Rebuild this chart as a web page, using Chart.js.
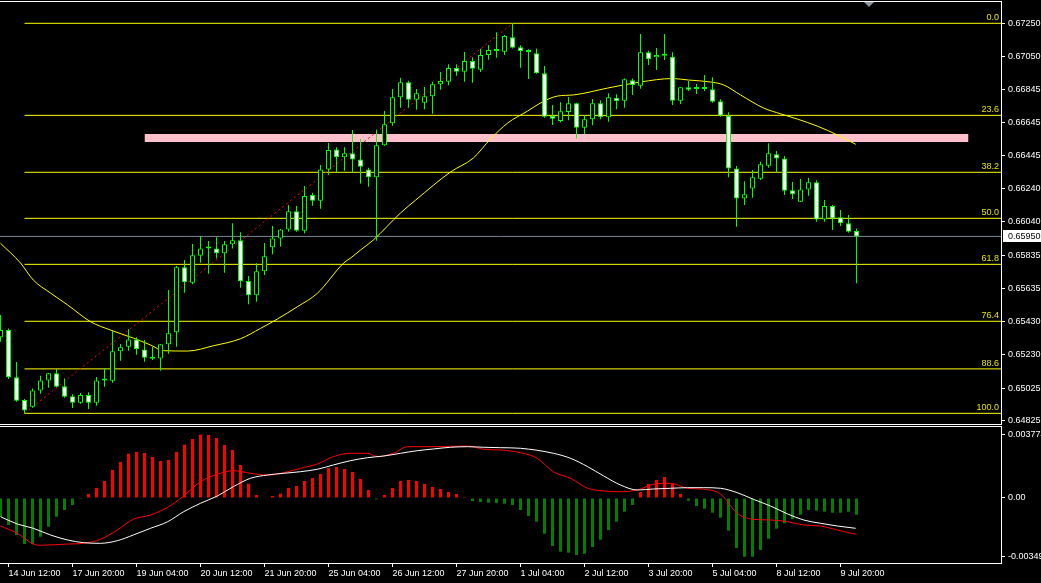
<!DOCTYPE html>
<html>
<head>
<meta charset="utf-8">
<script src="https://cdn.jsdelivr.net/npm/chart.js@4.4.1/dist/chart.umd.min.js"></script>
<style>
  html, body { margin: 0; padding: 0; background: #000; overflow: hidden; }
  #wrap { position: relative; width: 1041px; height: 583px; }
  canvas { position: absolute; left: 0; }
  #main { top: 0; }
  #osma { top: 425px; }
</style>
</head>
<body>
<div id="wrap">
  <canvas id="main" width="1041" height="425"></canvas>
  <canvas id="osma" width="1041" height="158"></canvas>
</div>
<script>
// H4 candles, 14 Jun 08:00 .. 10 Jul 04:00
const opens = [
  0.65335, 0.65379, 0.65091, 0.64952, 0.64911, 0.65011, 0.65072, 0.65115, 0.65037, 0.64976,
  0.64936, 0.64983, 0.64936, 0.65072, 0.65070, 0.65249, 0.65277, 0.65322, 0.65261, 0.65214,
  0.65206, 0.65292, 0.65365, 0.65762, 0.65668, 0.65832, 0.65877, 0.65877, 0.65847, 0.65902,
  0.65926, 0.65678, 0.65591, 0.65737, 0.65884, 0.65938, 0.65993, 0.66103, 0.65985, 0.66203,
  0.66168, 0.66359, 0.66481, 0.66433, 0.66457, 0.66420, 0.66359, 0.66311, 0.66506, 0.66640,
  0.66799, 0.66890, 0.66784, 0.66766, 0.66805, 0.66878, 0.66894, 0.66977, 0.66955, 0.67020,
  0.66967, 0.67057, 0.67081, 0.67077, 0.67165, 0.67104, 0.67075, 0.67067, 0.66945, 0.66684,
  0.66654, 0.66709, 0.66762, 0.66613, 0.66664, 0.66762, 0.66677, 0.66796, 0.66778, 0.66902,
  0.66869, 0.67073, 0.67043, 0.67052, 0.67046, 0.66778, 0.66860, 0.66849, 0.66849, 0.66847,
  0.66774, 0.66686, 0.66365, 0.66182, 0.66243, 0.66302, 0.66381, 0.66451, 0.66426, 0.66231,
  0.66162, 0.66237, 0.66280, 0.66054, 0.66135, 0.66067, 0.66030, 0.65983
];
const highs = [
  0.65471, 0.65389, 0.65184, 0.64958, 0.65023, 0.65100, 0.65117, 0.65141, 0.65084, 0.64987,
  0.64995, 0.64999, 0.65092, 0.65147, 0.65373, 0.65294, 0.65385, 0.65335, 0.65318, 0.65277,
  0.65294, 0.65623, 0.65769, 0.65806, 0.65904, 0.65952, 0.65922, 0.65945, 0.65922, 0.66030,
  0.65975, 0.65708, 0.65786, 0.65910, 0.66013, 0.65995, 0.66142, 0.66135, 0.66257, 0.66217,
  0.66386, 0.66520, 0.66494, 0.66494, 0.66599, 0.66544, 0.66369, 0.66603, 0.66715, 0.66849,
  0.66918, 0.66900, 0.66849, 0.66861, 0.66894, 0.66953, 0.67000, 0.67000, 0.67075, 0.67043,
  0.67095, 0.67118, 0.67195, 0.67179, 0.67250, 0.67116, 0.67091, 0.67097, 0.66989, 0.66752,
  0.66768, 0.66800, 0.66766, 0.66691, 0.66788, 0.66780, 0.66823, 0.66817, 0.66914, 0.66914,
  0.67185, 0.67083, 0.67099, 0.67185, 0.67073, 0.66860, 0.66898, 0.66880, 0.66935, 0.66921,
  0.66786, 0.66707, 0.66379, 0.66286, 0.66355, 0.66406, 0.66518, 0.66471, 0.66440, 0.66282,
  0.66300, 0.66308, 0.66292, 0.66172, 0.66142, 0.66111, 0.66081, 0.65999
];
const lows = [
  0.65308, 0.65080, 0.64942, 0.64867, 0.64905, 0.64990, 0.65027, 0.65030, 0.64966, 0.64903,
  0.64929, 0.64897, 0.64917, 0.65033, 0.65058, 0.65192, 0.65253, 0.65228, 0.65186, 0.65196,
  0.65131, 0.65234, 0.65277, 0.65607, 0.65658, 0.65790, 0.65722, 0.65816, 0.65729, 0.65877,
  0.65637, 0.65536, 0.65552, 0.65715, 0.65841, 0.65887, 0.65979, 0.65979, 0.65969, 0.66137,
  0.66119, 0.66326, 0.66339, 0.66351, 0.66339, 0.66271, 0.66253, 0.65924, 0.66501, 0.66625,
  0.66735, 0.66735, 0.66723, 0.66725, 0.66698, 0.66845, 0.66872, 0.66930, 0.66894, 0.66888,
  0.66953, 0.67028, 0.67040, 0.67057, 0.67097, 0.66979, 0.66910, 0.66942, 0.66674, 0.66630,
  0.66646, 0.66658, 0.66548, 0.66573, 0.66628, 0.66664, 0.66650, 0.66725, 0.66735, 0.66813,
  0.66851, 0.66996, 0.66965, 0.67026, 0.66752, 0.66758, 0.66837, 0.66819, 0.66837, 0.66766,
  0.66680, 0.66311, 0.66009, 0.66142, 0.66186, 0.66294, 0.66369, 0.66341, 0.66203, 0.66178,
  0.66160, 0.66198, 0.66040, 0.66040, 0.65989, 0.66013, 0.65973, 0.65664
];
const closes = [
  0.65379, 0.65091, 0.64948, 0.64889, 0.65011, 0.65072, 0.65115, 0.65033, 0.64972, 0.64936,
  0.64983, 0.64936, 0.65072, 0.65072, 0.65249, 0.65274, 0.65322, 0.65263, 0.65210, 0.65204,
  0.65292, 0.65359, 0.65762, 0.65670, 0.65835, 0.65877, 0.65877, 0.65847, 0.65902, 0.65926,
  0.65676, 0.65591, 0.65737, 0.65829, 0.65938, 0.65993, 0.66103, 0.65985, 0.66196, 0.66168,
  0.66359, 0.66477, 0.66433, 0.66457, 0.66420, 0.66375, 0.66311, 0.66506, 0.66634, 0.66799,
  0.66890, 0.66784, 0.66823, 0.66805, 0.66878, 0.66898, 0.66977, 0.66955, 0.67020, 0.66973,
  0.67057, 0.67087, 0.67081, 0.67172, 0.67101, 0.67081, 0.67081, 0.66945, 0.66680, 0.66668,
  0.66713, 0.66762, 0.66613, 0.66664, 0.66762, 0.66677, 0.66799, 0.66774, 0.66908, 0.66874,
  0.67073, 0.67030, 0.67057, 0.67052, 0.66778, 0.66860, 0.66845, 0.66849, 0.66849, 0.66772,
  0.66686, 0.66365, 0.66182, 0.66207, 0.66311, 0.66390, 0.66457, 0.66426, 0.66229, 0.66207,
  0.66237, 0.66280, 0.66054, 0.66135, 0.66060, 0.66030, 0.65979, 0.65950
];

// moving average, sampled at bar positions
const maIdx = [0, 2.5, 4.1, 6.25, 8.4, 11.25, 13.75, 16.6, 18.75, 20.4, 23.4, 26.6, 30, 32.5, 34.6, 37.1,
  39.6, 42.9, 43.75, 45, 46.6, 50, 51.9, 56.25, 59.1, 61.25, 63.4, 65.9, 67.5, 69.6, 71.6, 75.9, 80,
  84, 86, 88.75, 90.4, 92.5, 95.4, 97.5, 99.6, 102.1, 104.6, 106.9];
const maVal = [0.65908, 0.65788, 0.65684, 0.65605, 0.65532, 0.65430, 0.65379, 0.65330, 0.65288, 0.65253,
  0.65251, 0.65283, 0.65326, 0.65389, 0.65446, 0.65521, 0.65603, 0.65788, 0.65818, 0.65867, 0.65928,
  0.66093, 0.66172, 0.66343, 0.66428, 0.66544, 0.66642, 0.66715, 0.66764, 0.66806, 0.66813, 0.66855,
  0.66892, 0.66913, 0.66904, 0.66892, 0.66874, 0.66813, 0.66733, 0.66698, 0.66666, 0.66623, 0.66569,
  0.66512];

// fibonacci retracement drawn from the low bar to the high bar
const fibLevels = [0, 23.6, 38.2, 50, 61.8, 76.4, 88.6, 100];
const fibHigh = 0.67250;
const fibLow = 0.64871;
const fibStartIdx = 3;
const fibEndIdx = 64;

// pink zone
const zoneTop = 0.66575;
const zoneBottom = 0.66526;
const zoneStartIdx = 18;
const zoneEndIdx = 121;

const lastPrice = 0.65950;
const shiftMarkIdx = 108.5;

const priceTicks = [0.67250, 0.67050, 0.66845, 0.66645, 0.66445, 0.66240, 0.66040,
  0.65835, 0.65635, 0.65430, 0.65230, 0.65025, 0.64825];

const timeTickIdx = [1, 9, 17, 25, 33, 41, 49, 57, 65, 73, 81, 89, 97, 105];
const timeLabels = ['14 Jun 12:00', '17 Jun 20:00', '19 Jun 04:00', '20 Jun 12:00', '21 Jun 20:00',
  '25 Jun 04:00', '26 Jun 12:00', '27 Jun 20:00', '1 Jul 04:00', '2 Jul 12:00', '3 Jul 20:00',
  '5 Jul 04:00', '8 Jul 12:00', '9 Jul 20:00'];

// oscillator window
const hist = [
  -0.001115, -0.001609, -0.002205, -0.002742, -0.002742, -0.002307, -0.001711, -0.001115, -0.000715, -0.000417,
  -0.00006, 0.000238, 0.000596, 0.001013, 0.001669, 0.002146, 0.00264, 0.002742, 0.002682, 0.002444,
  0.002205, 0.002265, 0.002742, 0.003177, 0.003516, 0.003774, 0.003755, 0.003576, 0.003159, 0.002861,
  0.001967, 0.000852, 0.000179, -0.00004, 0.000119, 0.000256, 0.000596, 0.000715, 0.001013, 0.001192,
  0.00143, 0.001788, 0.001848, 0.001728, 0.00155, 0.001132, 0.000477, -0.000077, 0.000179, 0.000596,
  0.001013, 0.001073, 0.001013, 0.000834, 0.000656, 0.000536, 0.000358, 0.000238, 0.00006, -0.000179,
  -0.000238, -0.00028, -0.000298, -0.00034, -0.000417, -0.000715, -0.001073, -0.001413, -0.002128, -0.002861,
  -0.0032, -0.00326, -0.003397, -0.00332, -0.00292, -0.002485, -0.001907, -0.001413, -0.000817, -0.000417,
  0.000358, 0.000834, 0.001073, 0.001252, 0.000876, 0.000238, -0.000161, -0.000477, -0.000638, -0.000876,
  -0.001174, -0.001949, -0.00298, -0.003499, -0.003499, -0.003099, -0.002426, -0.00183, -0.001508, -0.001252,
  -0.000995, -0.000715, -0.000757, -0.000817, -0.000876, -0.000876, -0.000817, -0.000995
];
const whiteIdx = [0, 2.1, 4.1, 6.25, 8.4, 10.4, 12.5, 14.6, 16.6, 18.75, 20.9, 22.9, 25, 27.1, 29.1, 31.25,
  33.4, 35.4, 37.5, 39.6, 41.6, 43.75, 45.9, 47.9, 50, 52.1, 54.1, 56.25, 58.4, 60.4, 62.5, 65, 69.1, 71.25,
  73.4, 75.4, 77.5, 79.6, 81.6, 83.75, 85.9, 87.9, 90, 92.1, 94.1, 96.25, 98.4, 100.4, 102.5, 104.6, 106.9];
const whiteVal = [-0.001115, -0.00155, -0.001806, -0.002205, -0.002503, -0.002664, -0.0027, -0.002545,
  -0.002205, -0.001806, -0.001413, -0.000817, -0.000316, 0.000119, 0.000673, 0.001174, 0.001371, 0.001472,
  0.001567, 0.001711, 0.001967, 0.002223, 0.002402, 0.002503, 0.002664, 0.002819, 0.00292, 0.003022,
  0.003057, 0.003022, 0.002998, 0.002962, 0.002664, 0.002366, 0.001865, 0.001311, 0.000775, 0.000477,
  0.000536, 0.000578, 0.000614, 0.000614, 0.000578, 0.000316, -0.000077, -0.000477, -0.000954, -0.001311,
  -0.001508, -0.001669, -0.001806];
const redIdx = [0, 2.1, 4.1, 5, 8.4, 10.4, 12.5, 14.6, 16.6, 18.75, 20.9, 22.9, 25, 27.1, 29.1, 31.25,
  33.4, 35.4, 37.5, 39.6, 41.6, 43.75, 45.9, 47.1, 49.1, 50.9, 54.1, 58.4, 60.4, 62.5, 65, 67.1, 69.1,
  71.25, 73.4, 75.4, 77.5, 79.6, 81.6, 83.75, 85.9, 87.9, 90, 92.1, 94.1, 96.25, 98.4, 100.4, 102.5, 104.6, 106.9];
const redVal = [-0.001669, -0.002104, -0.002742, -0.002819, -0.002742, -0.0027, -0.002461, -0.001907,
  -0.00127, -0.001013, -0.000554, 0.000119, 0.000971, 0.001413, 0.001627, 0.001472, 0.001371, 0.001508,
  0.00177, 0.002026, 0.002461, 0.002664, 0.002664, 0.002461, 0.002664, 0.003057, 0.003057, 0.003099,
  0.002903, 0.002861, 0.0027, 0.002366, 0.001567, 0.001174, 0.000578, 0.000417, 0.000375, 0.000477,
  0.000817, 0.000876, 0.000578, 0.000519, 0.000238, -0.000912, -0.00127, -0.001311, -0.001413, -0.001609,
  -0.001669, -0.001907, -0.002163];
const oscTicks = [0.003774, 0, -0.00349];
const oscTickLabels = ['0.003774', '0.00', '-0.00349'];

// 8px per bar, bar centres on pixel columns
const X_MIN = -0.0625;
const X_MAX = 125.0625;
const FONT = '"Liberation Sans", Arial, sans-serif';

const fibPrice = (pct) => fibHigh - (fibHigh - fibLow) * pct / 100;
const pts = (xs, ys) => xs.map((x, k) => ({ x: x, y: ys[k] }));

function lineDs(data, color, extra) {
    return Object.assign({
        type: 'line',
        data: data,
        borderColor: color,
        borderWidth: 1,
        pointRadius: 0,
        tension: 0,
        fill: false
    }, extra);
}

// keep tick labels from pushing the plot area in
function noScalePadding(s) {
    s.paddingTop = 0;
    s.paddingBottom = 0;
    s.paddingLeft = 0;
    s.paddingRight = 0;
}

const baseOptions = {
    responsive: false,
    animation: false,
    devicePixelRatio: 1,
    events: [],
    plugins: {
        legend: { display: false },
        tooltip: { enabled: false }
    }
};

const frame = {
    id: 'frame',
    afterDraw(chart) {
        const { ctx, chartArea: a } = chart;
        ctx.save();
        ctx.strokeStyle = '#ffffff';
        ctx.lineWidth = 1;
        ctx.beginPath();
        ctx.moveTo(0, a.top + 0.5);
        ctx.lineTo(a.right + 1, a.top + 0.5);
        ctx.moveTo(a.right + 0.5, a.top);
        ctx.lineTo(a.right + 0.5, a.bottom + 1);
        ctx.moveTo(0, a.bottom + 0.5);
        ctx.lineTo(a.right + 1, a.bottom + 0.5);
        ctx.stroke();
        ctx.restore();
    }
};

const mainDecor = {
    id: 'mainDecor',
    afterDatasetsDraw(chart) {
        const { ctx, chartArea: a, scales: { y } } = chart;
        ctx.save();
        ctx.font = '9px ' + FONT;
        ctx.fillStyle = '#e6e600';
        ctx.textAlign = 'right';
        ctx.textBaseline = 'bottom';
        fibLevels.forEach(p => {
            ctx.fillText(p.toFixed(1), a.right - 2, y.getPixelForValue(fibPrice(p)) - 1);
        });
        ctx.restore();
    },
    afterDraw(chart) {
        const { ctx, chartArea: a, scales: { x, y } } = chart;
        ctx.save();
        // current price box
        const py = Math.round(y.getPixelForValue(lastPrice));
        ctx.fillStyle = '#ffffff';
        ctx.fillRect(a.right + 2, py - 6, 40, 12);
        ctx.fillStyle = '#000000';
        ctx.font = '9px ' + FONT;
        ctx.textAlign = 'left';
        ctx.textBaseline = 'middle';
        ctx.fillText(lastPrice.toFixed(5), a.right + 7, py + 0.5);
        // chart shift marker
        const sx = Math.round(x.getPixelForValue(shiftMarkIdx));
        ctx.fillStyle = '#8a95a0';
        ctx.beginPath();
        ctx.moveTo(sx - 5, a.top + 1);
        ctx.lineTo(sx + 5, a.top + 1);
        ctx.lineTo(sx, a.top + 6);
        ctx.closePath();
        ctx.fill();
        ctx.restore();
    }
};

// main price window
new Chart(document.getElementById('main'), {
    type: 'bar',
    data: {
        datasets: [
            {
                type: 'bar',
                data: opens.map((o, i) => ({ x: i, y: [o, closes[i]] })),
                backgroundColor: opens.map((o, i) => closes[i] < o ? '#ffffff' : '#000000'),
                borderColor: '#00ff00',
                borderWidth: 1,
                borderSkipped: false,
                barThickness: 5,
                minBarLength: 2,
                grouped: false,
                inflateAmount: 0,
                order: 1
            },
            {
                type: 'bar',
                data: lows.map((l, i) => ({ x: i, y: [l, highs[i]] })),
                backgroundColor: '#00ff00',
                borderWidth: 0,
                barThickness: 1,
                grouped: false,
                inflateAmount: 0,
                order: 2
            },
            lineDs(pts(maIdx, maVal), '#ffff00', { cubicInterpolationMode: 'monotone', order: 6 }),
            lineDs([{ x: fibStartIdx, y: fibLow }, { x: fibEndIdx, y: fibHigh }], '#ff0000',
                { borderDash: [2, 3], order: 7 }),
            lineDs([{ x: X_MIN, y: lastPrice }, { x: X_MAX, y: lastPrice }], '#778899', { order: 8 }),
            ...fibLevels.map(p => lineDs(
                [{ x: fibStartIdx, y: fibPrice(p) }, { x: X_MAX, y: fibPrice(p) }], '#ffff00', { order: 9 })),
            lineDs([{ x: zoneStartIdx, y: zoneTop }, { x: zoneEndIdx, y: zoneTop }], 'rgba(0,0,0,0)', {
                borderWidth: 0,
                fill: { value: zoneBottom },
                backgroundColor: '#ffc0cb',
                order: 10
            })
        ]
    },
    options: {
        ...baseOptions,
        layout: { padding: { top: 1, bottom: 1, left: 0, right: 0 }, autoPadding: false },
        scales: {
            x: {
                type: 'linear',
                min: X_MIN,
                max: X_MAX,
                offset: false,
                display: false
            },
            y: {
                type: 'linear',
                position: 'right',
                min: 0.64806,
                max: 0.67386,
                afterFit: (s) => { s.width = 40; noScalePadding(s); },
                afterBuildTicks: (s) => { s.ticks = priceTicks.map(v => ({ value: v })); },
                ticks: {
                    color: '#ffffff',
                    padding: 3,
                    autoSkip: false,
                    font: { family: FONT, size: 9 },
                    callback: (v) => Number(v).toFixed(5)
                },
                grid: { drawOnChartArea: false, color: '#ffffff', tickLength: 4 },
                border: { display: false }
            }
        }
    },
    plugins: [frame, mainDecor]
});

// oscillator window
new Chart(document.getElementById('osma'), {
    type: 'bar',
    data: {
        datasets: [
            lineDs(pts(whiteIdx, whiteVal), '#ffffff', { cubicInterpolationMode: 'monotone', order: 1 }),
            lineDs(pts(redIdx, redVal), '#ff0000', { cubicInterpolationMode: 'monotone', order: 2 }),
            {
                type: 'bar',
                data: hist.map((v, i) => ({ x: i, y: v })),
                backgroundColor: hist.map(v => v >= 0 ? '#ff0000' : '#008000'),
                borderWidth: 0,
                barThickness: 3,
                grouped: false,
                inflateAmount: 0,
                order: 3
            }
        ]
    },
    options: {
        ...baseOptions,
        layout: { padding: { top: 1, bottom: 0, left: 0, right: 0 }, autoPadding: false },
        scales: {
            x: {
                type: 'linear',
                min: X_MIN,
                max: X_MAX,
                offset: false,
                afterFit: (s) => { s.height = 20; noScalePadding(s); },
                afterBuildTicks: (s) => { s.ticks = timeTickIdx.map(v => ({ value: v })); },
                ticks: {
                    color: '#ffffff',
                    align: 'start',
                    maxRotation: 0,
                    autoSkip: false,
                    padding: 1,
                    font: { family: FONT, size: 9 },
                    callback: (v, i) => timeLabels[i]
                },
                grid: { drawOnChartArea: false, offset: false, color: '#ffffff', tickLength: 4 },
                border: { display: false }
            },
            y: {
                type: 'linear',
                position: 'right',
                min: -0.003874,
                max: 0.00429,
                afterFit: (s) => { s.width = 40; noScalePadding(s); },
                afterBuildTicks: (s) => { s.ticks = oscTicks.map(v => ({ value: v })); },
                ticks: {
                    color: '#ffffff',
                    padding: 3,
                    autoSkip: false,
                    font: { family: FONT, size: 9 },
                    callback: (v, i) => oscTickLabels[i]
                },
                grid: { drawOnChartArea: false, color: '#ffffff', tickLength: 4 },
                border: { display: false }
            }
        }
    },
    plugins: [frame]
});
</script>
</body>
</html>
